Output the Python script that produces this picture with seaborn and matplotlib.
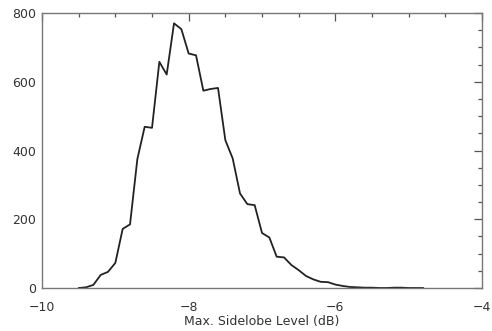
import numpy as np
import pandas as pd
import matplotlib
matplotlib.use('Agg')
import matplotlib.pyplot as plt
import seaborn as sns
from matplotlib.ticker import MultipleLocator

# histogram of max sidelobe level, 0.1 dB bins
level = [-9.5, -9.4, -9.3, -9.2, -9.1, -9.0, -8.9, -8.8, -8.7, -8.6,
         -8.5, -8.4, -8.3, -8.2, -8.1, -8.0, -7.9, -7.8, -7.7, -7.6,
         -7.5, -7.4, -7.3, -7.2, -7.1, -7.0, -6.9, -6.8, -6.7, -6.6,
         -6.5, -6.4, -6.3, -6.2, -6.1, -6.0, -5.9, -5.8, -5.7, -5.6,
         -5.5, -5.4, -5.3, -5.2, -5.1, -5.0, -4.9, -4.8]
count = [0, 2, 9, 38, 47, 73, 172, 185, 375, 469,
         466, 658, 621, 770, 753, 682, 677, 574, 579, 582,
         430, 377, 275, 244, 241, 160, 147, 91, 89, 67,
         52, 35, 25, 18, 17, 10, 6, 3, 2, 1,
         1, 0, 0, 1, 1, 0, 0, 0]

df = pd.DataFrame({'level': level, 'count': count})

sns.set_style('white')
plt.rcParams['font.family'] = ['DejaVu Sans']

fig = plt.figure(figsize=(4.92, 3.31), dpi=100)
ax = fig.add_axes([0.0854, 0.1299, 0.8943, 0.8308])

sns.lineplot(x='level', y='count', data=df, ax=ax, color='#222222', linewidth=1.3)

ax.set_xlim(-10, -4)
ax.set_ylim(0, 800)
ax.xaxis.set_major_locator(MultipleLocator(2))
ax.xaxis.set_minor_locator(MultipleLocator(0.5))
ax.yaxis.set_major_locator(MultipleLocator(200))
ax.yaxis.set_minor_locator(MultipleLocator(50))

ax.tick_params(which='both', direction='in', top=True, right=True, colors='#555555',
               labelcolor='#333333', labelsize=9)
ax.tick_params(which='major', length=6, width=0.9)
ax.tick_params(which='minor', length=3, width=0.9)
ax.tick_params(axis='x', pad=9)
ax.tick_params(axis='y', pad=4)
for s in ax.spines.values():
    s.set_color('#777777')
    s.set_linewidth(1.0)

ax.set_xlabel('Max. Sidelobe Level (dB)', fontsize=9, color='#333333', labelpad=1)
ax.set_ylabel('')

fig.savefig('out.png', dpi=100)
